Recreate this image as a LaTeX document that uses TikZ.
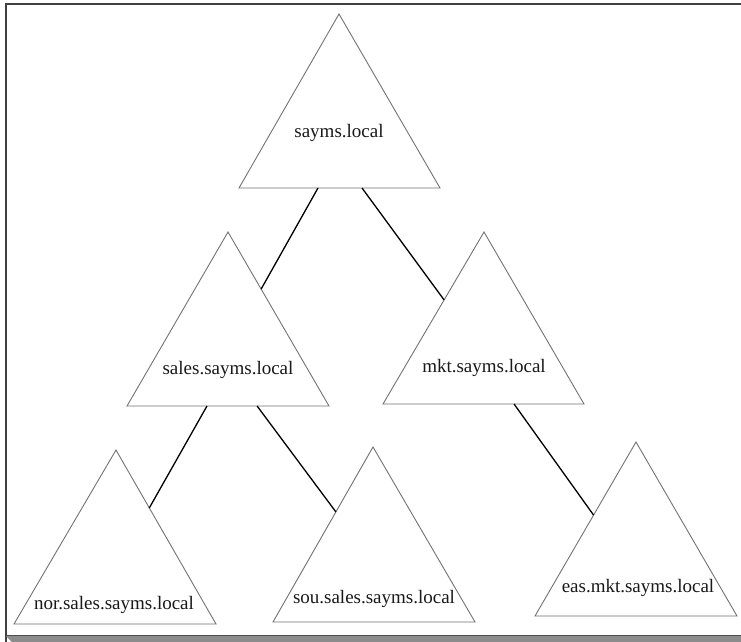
\documentclass[tikz,border=0pt]{standalone}
\usepackage{fontspec}
\setmainfont{Liberation Serif}
\usetikzlibrary{calc}
\begin{document}
\begin{tikzpicture}[x=1pt,y=-1pt,
  tri/.style={draw=black!55, line width=0.9pt, line join=miter, fill=white},
  conn/.style={draw=black, line width=1.3pt},
  lbl/.style={font=\fontsize{19}{21}\selectfont, text=black!90, inner sep=0pt, anchor=base},
  frameline/.style={draw=black!75, line width=1.4pt}]
\useasboundingbox (0,0) rectangle (741,642);
% frame
\fill[white] (0,0) rectangle (741,642);
\draw[frameline] (6,642) -- (6,4) -- (741,4);
\fill[black!45] (6,636) -- (741,636) -- (741,642) -- (12,642) -- cycle;
\draw[black!70, line width=0.9pt] (6,635.5) -- (741,635.5);
% vertices
\coordinate (T) at (339,14);  \coordinate (TL) at (239,188); \coordinate (TR) at (440,188);
\coordinate (S) at (228,232); \coordinate (SL) at (127,406); \coordinate (SR) at (329,406);
\coordinate (M) at (484,232); \coordinate (ML) at (383,404); \coordinate (MR) at (584,404);
\coordinate (N) at (116,450); \coordinate (NL) at (14,624);  \coordinate (NR) at (216,624);
\coordinate (O) at (373,447); \coordinate (OL) at (273,622); \coordinate (OR) at (475,622);
\coordinate (E) at (636,442); \coordinate (EL) at (535,616); \coordinate (ER) at (737,616);
% triangles
\draw[tri] (T) -- (TR) -- (TL) -- cycle;
\draw[tri] (S) -- (SR) -- (SL) -- cycle;
\draw[tri] (M) -- (MR) -- (ML) -- cycle;
\draw[tri] (N) -- (NR) -- (NL) -- cycle;
\draw[tri] (O) -- (OR) -- (OL) -- cycle;
\draw[tri] (E) -- (ER) -- (EL) -- cycle;
% labels
\node[lbl] (root) at (339,137) {sayms.local};
\node[lbl] (sales) at (228,374) {sales.sayms.local};
\node[lbl] (mkt) at (484,372) {mkt.sayms.local};
\node[lbl] (nor) at (114,609) {nor.sales.sayms.local};
\node[lbl] (sou) at (374,603) {sou.sales.sayms.local};
\node[lbl] (eas) at (638,592) {eas.mkt.sayms.local};
% connector end points
\coordinate (c1a) at ($(TL)!0.393!(TR)$); \coordinate (c1b) at ($(S)!0.328!(SR)$);
\coordinate (c2a) at ($(TL)!0.612!(TR)$); \coordinate (c2b) at ($(M)!0.395!(ML)$);
\coordinate (c3a) at ($(SL)!0.396!(SR)$); \coordinate (c3b) at ($(N)!0.333!(NR)$);
\coordinate (c4a) at ($(SL)!0.644!(SR)$); \coordinate (c4b) at ($(O)!0.371!(OL)$);
\coordinate (c5a) at ($(ML)!0.652!(MR)$); \coordinate (c5b) at ($(E)!0.42!(EL)$);
\draw[conn] (c1a) -- (c1b);
\draw[conn] (c2a) -- (c2b);
\draw[conn] (c3a) -- (c3b);
\draw[conn] (c4a) -- (c4b);
\draw[conn] (c5a) -- (c5b);
\end{tikzpicture}
\end{document}
